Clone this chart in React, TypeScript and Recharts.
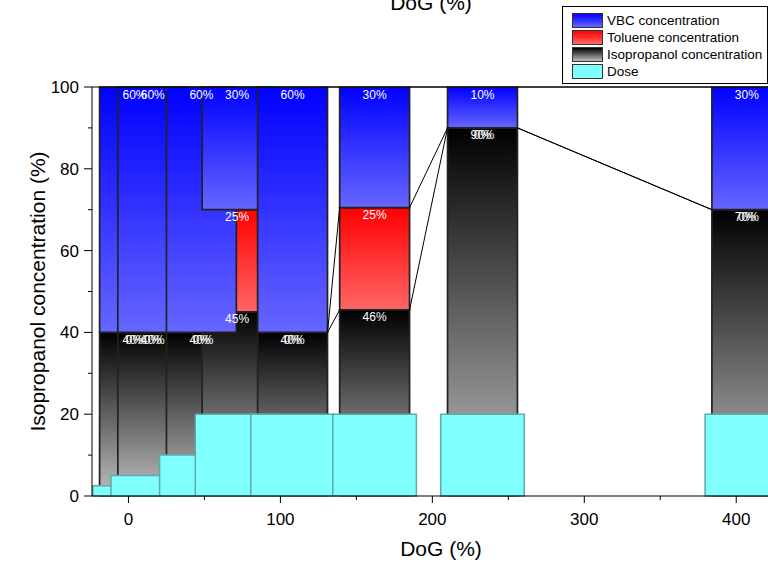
import { ComposedChart, XAxis, YAxis, ReferenceArea, ReferenceLine } from "recharts";

// DoG (%) of each sample
const dog = [4, 16, 48, 71.5, 108, 162, 233, 407];
const isopropanol = [40, 40, 40, 45, 40, 45.5, 90, 70];
const toluene = [0, 0, 0, 25, 0, 25, 0, 0];
const vbc = [60, 60, 60, 30, 60, 29.5, 10, 30];
const dose = [2.5, 5, 10, 20, 20, 20, 20, 20];

const xTicks = [0, 50, 100, 150, 200, 250, 300, 350, 400];
const xTickLabels = ["0", "", "100", "", "200", "", "300", "", "400"];
const yTicks = [0, 10, 20, 30, 40, 50, 60, 70, 80, 90, 100];
const yTickLabels = ["0", "", "20", "", "40", "", "60", "", "80", "", "100"];

const CONC_W = 46;
const DOSE_W = 55;
const FONT = "'Liberation Sans', Arial, sans-serif";

const layers = [
  { name: "Isopropanol concentration", values: isopropanol, fill: "url(#gIso)", css: "linear-gradient(#000000, #c0c0c0)" },
  { name: "Toluene concentration", values: toluene, fill: "url(#gTol)", css: "linear-gradient(#ff0000, #ff6666)" },
  { name: "VBC concentration", values: vbc, fill: "url(#gVbc)", css: "linear-gradient(#0000ff, #6666ff)" },
];

const legendItems = [
  layers[2],
  layers[1],
  layers[0],
  { name: "Dose", css: "#80ffff" },
];

const stackBase = (li: number, i: number) =>
  layers.slice(0, li).reduce((s, l) => s + l.values[i], 0);

const segments = layers.flatMap((layer, li) =>
  layer.values.map((v, i) => ({
    key: `${li}-${i}`,
    fill: layer.fill,
    x1: dog[i] - CONC_W / 2,
    x2: dog[i] + CONC_W / 2,
    y1: stackBase(li, i),
    y2: stackBase(li, i) + v,
    value: v,
  }))
);

// connecting lines between neighbouring stacks (only where there is a gap)
const links: { key: string; a: { x: number; y: number }; b: { x: number; y: number } }[] = [];
for (let i = 0; i < dog.length - 1; i++) {
  const right = dog[i] + CONC_W / 2;
  const left = dog[i + 1] - CONC_W / 2;
  if (right >= left) continue;
  layers.forEach((_, li) => {
    links.push({
      key: `${li}-${i}`,
      a: { x: right, y: stackBase(li + 1, i) },
      b: { x: left, y: stackBase(li + 1, i + 1) },
    });
  });
}

function XTick(props: any) {
  const { x, y, payload } = props;
  const label = xTickLabels[xTicks.indexOf(payload.value)] ?? "";
  const major = label !== "";
  return (
    <g>
      <line x1={x} x2={x} y1={y} y2={y + (major ? 7 : 4)} stroke="#000" />
      {major && (
        <text x={x} y={y + 29} textAnchor="middle" fontSize={17} fontFamily={FONT} fill="#000">
          {label}
        </text>
      )}
    </g>
  );
}

function YTick(props: any) {
  const { x, y, payload } = props;
  const label = yTickLabels[yTicks.indexOf(payload.value)] ?? "";
  const major = label !== "";
  return (
    <g>
      <line x1={x} x2={x - (major ? 8 : 4)} y1={y} y2={y} stroke="#000" />
      {major && (
        <text x={x - 13} y={y + 6} textAnchor="end" fontSize={17} fontFamily={FONT} fill="#000">
          {label}
        </text>
      )}
    </g>
  );
}

function BottomTitle(props: any) {
  const { viewBox } = props;
  return (
    <text x={viewBox.x + 349} y={viewBox.y + 60} textAnchor="middle" fontSize={21} fontFamily={FONT} fill="#000">
      DoG (%)
    </text>
  );
}

function TopTitle(props: any) {
  const { viewBox } = props;
  return (
    <text x={viewBox.x + 339} y={viewBox.y + 10} textAnchor="middle" fontSize={21} fontFamily={FONT} fill="#000">
      DoG (%)
    </text>
  );
}

function YTitle(props: any) {
  const { viewBox } = props;
  const cx = viewBox.x + 37;
  const cy = viewBox.y + viewBox.height / 2;
  return (
    <text
      x={cx}
      y={cy}
      transform={`rotate(-90 ${cx} ${cy})`}
      textAnchor="middle"
      dominantBaseline="central"
      fontSize={21}
      fontFamily={FONT}
      fill="#000"
    >
      Isopropanol concentration (%)
    </text>
  );
}

export default function App() {
  return (
    <div
      style={{
        position: "absolute",
        left: 0,
        top: 0,
        width: 768,
        height: 564,
        overflow: "hidden",
        background: "#fff",
        fontFamily: FONT,
      }}
    >
      <ComposedChart width={810} height={564} margin={{ top: 0, right: 13, bottom: 0, left: 0 }}>
        <defs>
          <linearGradient id="gVbc" x1="0" y1="0" x2="0" y2="1">
            <stop offset="0%" stopColor="#0000ff" />
            <stop offset="100%" stopColor="#6666ff" />
          </linearGradient>
          <linearGradient id="gTol" x1="0" y1="0" x2="0" y2="1">
            <stop offset="0%" stopColor="#ff0000" />
            <stop offset="100%" stopColor="#ff6666" />
          </linearGradient>
          <linearGradient id="gIso" x1="0" y1="0" x2="0" y2="1">
            <stop offset="0%" stopColor="#000000" />
            <stop offset="100%" stopColor="#c0c0c0" />
          </linearGradient>
        </defs>
        <XAxis
          type="number"
          dataKey="x"
          domain={[-24, 440]}
          allowDataOverflow
          ticks={xTicks}
          interval={0}
          tickSize={0}
          tickMargin={0}
          tickLine={false}
          tick={<XTick />}
          height={68}
          axisLine={{ stroke: "#000" }}
          label={<BottomTitle />}
        />
        <XAxis
          xAxisId="top"
          orientation="top"
          type="number"
          domain={[-24, 440]}
          allowDataOverflow
          tick={false}
          tickLine={false}
          height={87}
          axisLine={{ stroke: "#000" }}
          label={<TopTitle />}
        />
        <YAxis
          type="number"
          domain={[0, 100]}
          allowDataOverflow
          ticks={yTicks}
          interval={0}
          tickSize={0}
          tickMargin={0}
          tickLine={false}
          tick={<YTick />}
          width={92}
          axisLine={{ stroke: "#000" }}
          label={<YTitle />}
        />
        {links.map((l) => (
          <ReferenceLine key={`link-${l.key}`} segment={[l.a, l.b]} stroke="#000" strokeWidth={1} />
        ))}
        {segments
          .filter((s) => s.value > 0)
          .map((s) => (
            <ReferenceArea
              key={`seg-${s.key}`}
              x1={s.x1}
              x2={s.x2}
              y1={s.y1}
              y2={s.y2}
              fill={s.fill}
              fillOpacity={1}
              stroke="#222"
              strokeWidth={1.7}
              strokeOpacity={1}
            />
          ))}
        {dose.map((d, i) => (
          <ReferenceArea
            key={`dose-${i}`}
            x1={dog[i] - DOSE_W / 2}
            x2={dog[i] + DOSE_W / 2}
            y1={0}
            y2={d}
            fill="#80ffff"
            fillOpacity={1}
            stroke="#5fa9a9"
            strokeWidth={1.5}
            strokeOpacity={1}
          />
        ))}
        {segments.map((s) => (
          <ReferenceArea
            key={`lab-${s.key}`}
            x1={s.x1}
            x2={s.x2}
            y1={s.y1}
            y2={s.y2}
            fill="none"
            stroke="none"
            label={{
              value: `${Math.round(s.value)}%`,
              position: "insideTop",
              offset: 3,
              fill: "#fff",
              fontSize: 12,
              fontFamily: FONT,
            }}
          />
        ))}
      </ComposedChart>
      <div
        style={{
          position: "absolute",
          left: 562,
          top: 6,
          width: 206,
          height: 78,
          border: "1px solid #000",
          background: "#fff",
          boxSizing: "border-box",
        }}
      >
        {legendItems.map((it, k) => (
          <div
            key={it.name}
            style={{
              position: "absolute",
              left: 9,
              top: 6 + k * 17,
              height: 15,
              display: "flex",
              alignItems: "center",
              whiteSpace: "nowrap",
            }}
          >
            <span
              style={{
                display: "inline-block",
                width: 31,
                height: 15,
                background: it.css,
                border: "1px solid #333",
                boxSizing: "border-box",
              }}
            />
            <span style={{ marginLeft: 4, fontSize: 13.5, color: "#000", lineHeight: "15px" }}>{it.name}</span>
          </div>
        ))}
      </div>
    </div>
  );
}
